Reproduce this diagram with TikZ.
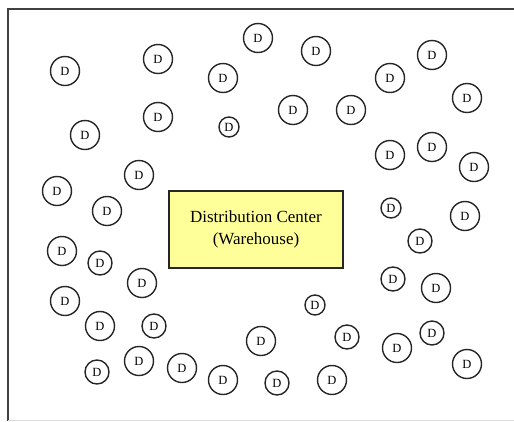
\documentclass[tikz,border=0pt]{standalone}
\usepackage{fontspec}
\setmainfont{Liberation Serif}
\definecolor{dcfill}{RGB}{255,255,153}
\tikzset{
  store/.style={draw=black!85, line width=1.4pt, circle, inner sep=0pt,
                minimum size=29pt, font=\fontsize{12.5}{12.5}\selectfont},
  storem/.style={store, minimum size=24pt},
  stores/.style={store, minimum size=20pt},
  warehouse/.style={draw=black!85, line width=1.6pt, fill=dcfill, align=center,
                    minimum width=174pt, minimum height=77pt,
                    font=\fontsize{17}{22}\selectfont}
}
\begin{document}
\begin{tikzpicture}[x=1pt,y=-1pt]
\useasboundingbox (0,0) rectangle (514,421);
  % Draw frame
  \draw[line width=2pt, black!75] (8,421) -- (8,9) -- (514,9);
  \draw[line width=1pt, black!15] (8,420.5) -- (514,420.5);
  % Draw distribution center
  \node[warehouse] (dc) at (256,229.5) {Distribution Center\\(Warehouse)};
  % Draw stores, top
  \node[store]  (d1)  at (65,71)   {D};
  \node[store]  (d2)  at (158,59)  {D};
  \node[store]  (d3)  at (258,38)  {D};
  \node[store]  (d4)  at (223,78)  {D};
  \node[store]  (d5)  at (316,51)  {D};
  \node[store]  (d6)  at (390,78)  {D};
  \node[store]  (d7)  at (432,55)  {D};
  \node[store]  (d8)  at (467,98)  {D};
  \node[store]  (d9)  at (158,117) {D};
  \node[stores] (d10) at (229,127) {D};
  \node[store]  (d11) at (293,110) {D};
  \node[store]  (d12) at (351,110) {D};
  \node[store]  (d13) at (85,135)  {D};
  % Draw stores, right
  \node[store]  (d14) at (390,155) {D};
  \node[store]  (d15) at (432,147) {D};
  \node[store]  (d16) at (474,167) {D};
  \node[stores] (d17) at (391,208) {D};
  \node[store]  (d18) at (465,216) {D};
  \node[storem] (d19) at (420,241) {D};
  \node[storem] (d20) at (393,279) {D};
  \node[store]  (d21) at (436,288) {D};
  % Draw stores, left
  \node[store]  (d22) at (139,175) {D};
  \node[store]  (d23) at (57,191)  {D};
  \node[store]  (d24) at (107,211) {D};
  \node[store]  (d25) at (62,251)  {D};
  \node[storem] (d26) at (100,263) {D};
  \node[store]  (d27) at (142,283) {D};
  \node[store]  (d28) at (65,301)  {D};
  \node[store]  (d29) at (100,326) {D};
  \node[storem] (d30) at (154,326) {D};
  % Draw stores, bottom
  \node[stores] (d31) at (315,305) {D};
  \node[store]  (d32) at (261,341) {D};
  \node[storem] (d33) at (347,337) {D};
  \node[store]  (d34) at (397,348) {D};
  \node[storem] (d35) at (432,333) {D};
  \node[store]  (d36) at (467,364) {D};
  \node[storem] (d37) at (97,372)  {D};
  \node[store]  (d38) at (139,361) {D};
  \node[store]  (d39) at (182,368) {D};
  \node[store]  (d40) at (223,380) {D};
  \node[storem] (d41) at (277,383) {D};
  \node[store]  (d42) at (332,380) {D};
\end{tikzpicture}
\end{document}
